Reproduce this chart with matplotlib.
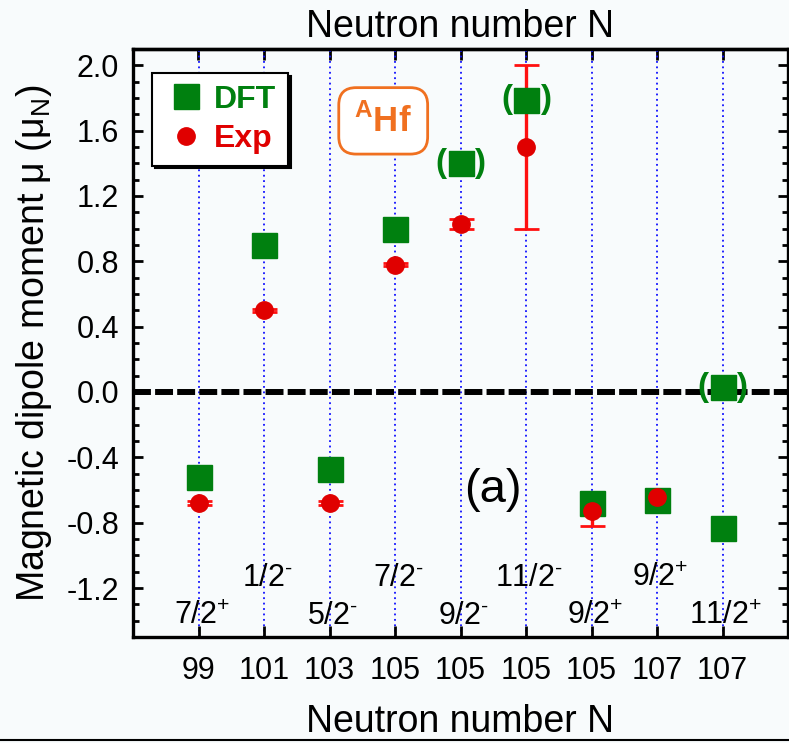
import numpy as np
import matplotlib
matplotlib.use('Agg')
import matplotlib.pyplot as plt
from matplotlib.lines import Line2D
from matplotlib.ticker import MultipleLocator

plt.rcParams['font.family'] = ['Liberation Sans', 'DejaVu Sans']
plt.rcParams['mathtext.fontset'] = 'custom'
plt.rcParams['mathtext.rm'] = 'Liberation Sans'
plt.rcParams['mathtext.bf'] = 'Liberation Sans:bold'
plt.rcParams['axes.unicode_minus'] = False

# states of the Hf isotopes, one column per level
N_labels = ['99', '101', '103', '105', '105', '105', '105', '107', '107']
spins = ['7/2$^\\mathregular{+}$', '1/2$^\\text{-}$', '5/2$^\\text{-}$',
         '7/2$^\\text{-}$', '9/2$^\\text{-}$', '11/2$^\\text{-}$',
         '9/2$^\\mathregular{+}$', '9/2$^\\mathregular{+}$', '11/2$^\\mathregular{+}$']

# DFT values (tentative ones are shown in brackets)
dft_x = [1, 2, 3, 4, 5, 6, 7, 8, 9, 9]
dft_mu = [-0.52, 0.90, -0.47, 1.00, 1.40, 1.79, -0.68, -0.66, -0.83, 0.03]
dft_tentative = [False, False, False, False, True, True, False, False, False, True]

# experiment
exp_x = [1, 2, 3, 4, 5, 6, 7, 8]
exp_mu = [-0.68, 0.50, -0.68, 0.78, 1.03, 1.50, -0.73, -0.64]
exp_err = [0.01, 0.01, 0.01, 0.01, 0.03, 0.50, 0.09, 0.01]

green = '#00800f'
red_dot = '#e00000'
red_bar = '#ff1010'
orange = '#f07020'
bg = '#f8fbfc'

fig = plt.figure(figsize=(7.89, 7.43), dpi=100, facecolor=bg)
ax = fig.add_axes([133/789, (743-637)/743, 655/789, 588/743], facecolor=bg)

pos = np.arange(1, len(N_labels) + 1)
for p in pos:
    ax.axvline(p, color='#1010ff', ls=(0, (1, 2)), lw=1.3, zorder=1)
ax.axhline(0, color='k', ls=(0, (3, 0.7)), lw=4.3, zorder=1.5)

ax.errorbar(exp_x, exp_mu, yerr=exp_err, fmt='none', ecolor=red_bar, elinewidth=2.4,
            capsize=9, capthick=2, zorder=2)
ax.plot(dft_x, dft_mu, 's', color=green, ms=18, zorder=3)
ax.plot(exp_x, exp_mu, 'o', color=red_dot, ms=12.5, zorder=4)

for x, y, t in zip(dft_x, dft_mu, dft_tentative):
    if t:
        ax.annotate('(', (x, y), xytext=(-14, 0), textcoords='offset points', ha='center',
                    va='center', color=green, fontsize=24, fontweight='bold', zorder=5)
        ax.annotate(')', (x, y), xytext=(14, 0), textcoords='offset points', ha='center',
                    va='center', color=green, fontsize=24, fontweight='bold', zorder=5)

# spin labels, alternating rows
for i, s in enumerate(spins):
    yy = -1.42 if i % 2 == 0 else -1.19
    ax.text(pos[i] + 0.05, yy, s, ha='center', va='baseline', fontsize=22)

ax.text(5.5, -0.60, '(a)', ha='center', va='center', fontsize=34)
ax.text(3.82, 1.66, r'$^{\mathbf{A}}\mathbf{Hf}$', ha='center', va='center', fontsize=25,
        color=orange,
        bbox=dict(boxstyle='round,pad=0.45,rounding_size=0.5', fc='white', ec=orange, lw=2))

handles = [Line2D([], [], marker='s', ls='none', color=green, ms=18),
           Line2D([], [], marker='o', ls='none', color=red_dot, ms=12.5)]
leg = ax.legend(handles, ['DFT', 'Exp'], loc='upper left', bbox_to_anchor=(0.029, 0.959),
                borderaxespad=0, fancybox=False, framealpha=1, facecolor='white',
                edgecolor='k', prop={'weight': 'bold', 'size': 23}, labelcolor=[green, red_dot],
                handlelength=1.4, handletextpad=0.19, borderpad=0.36, labelspacing=0.3,
                shadow={'facecolor': 'k', 'edgecolor': 'k', 'alpha': 1})
leg.get_frame().set_linewidth(1.5)

ax.set_xlim(0, 10)
ax.set_ylim(-1.5, 2.1)
ax.set_xticks(pos)
ax.set_xticklabels(N_labels)
yt = [-1.2, -0.8, -0.4, 0.0, 0.4, 0.8, 1.2, 1.6, 2.0]
ax.set_yticks(yt)
ax.set_yticklabels(['%.1f' % v for v in yt])
ax.yaxis.set_minor_locator(MultipleLocator(0.1))
ax.tick_params(axis='x', direction='in', length=8, width=2, pad=14, labelsize=22)
ax.tick_params(axis='y', which='major', direction='in', right=True, length=7, width=2,
               pad=10, labelsize=22)
ax.tick_params(axis='y', which='minor', direction='in', right=True, length=4, width=2)
for sp in ax.spines.values():
    sp.set_linewidth(2.4)

ax.set_xlabel('Neutron number N', fontsize=27, labelpad=13)
ax.set_ylabel('Magnetic dipole moment μ (μ$_\\mathregular{N}$)', fontsize=27, labelpad=9)

top = ax.secondary_xaxis('top')
top.set_xticks(pos)
top.set_xticklabels([])
top.tick_params(direction='in', length=8, width=2)
top.spines['top'].set_linewidth(2.4)
top.set_xlabel('Neutron number N', fontsize=27, labelpad=5)

fig.add_artist(Line2D([0, 1], [0.0036, 0.0036], transform=fig.transFigure, color='k', lw=1.5))

fig.savefig('out.png', dpi=100, facecolor=bg)
